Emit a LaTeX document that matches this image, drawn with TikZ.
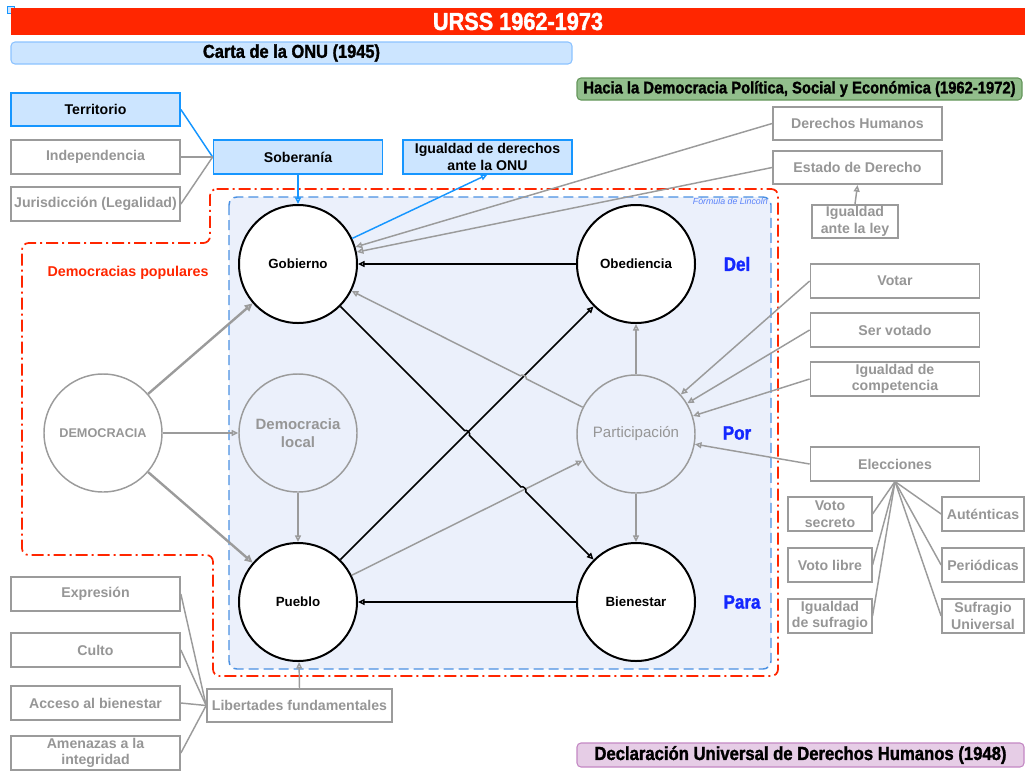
\documentclass[tikz,border=0pt]{standalone}
\usepackage{fontspec}
\setmainfont{Liberation Sans}
\newfontfamily\condfont{Liberation Sans}[FakeStretch=0.88,BoldFeatures={FakeBold=1.5}]
\usetikzlibrary{arrows.meta,calc}

\definecolor{redc}{RGB}{255,38,0}
\definecolor{brightblue}{RGB}{22,150,255}
\definecolor{lightblue}{RGB}{204,229,255}
\definecolor{cartaline}{RGB}{140,195,255}
\definecolor{grayline}{RGB}{155,155,155}
\definecolor{graytext}{RGB}{150,150,150}
\definecolor{dashblue}{RGB}{74,144,226}
\definecolor{lavender}{RGB}{235,240,251}
\definecolor{dpblue}{RGB}{20,40,255}
\definecolor{greenbar}{RGB}{146,190,140}
\definecolor{greenline}{RGB}{100,150,90}
\definecolor{purplebar}{RGB}{230,205,230}
\definecolor{purpleline}{RGB}{195,135,195}
\definecolor{lincolnblue}{RGB}{90,130,250}

\begin{document}
\begin{tikzpicture}[x=0.75pt,y=-0.75pt,
  box/.style={draw=grayline, line width=1.3pt, fill=white, text=graytext,
    font=\bfseries\fontsize{10.6}{12.5}\selectfont, align=center,
    inner sep=0pt, minimum width=126.75pt, minimum height=25pt},
  bluebox/.style={box, draw=brightblue, fill=lightblue, text=black},
  smallbox/.style={box, minimum width=62.5pt},
  circ/.style={circle, draw=black, line width=1.5pt, fill=white,
    minimum size=88.5pt, inner sep=0pt, font=\bfseries\fontsize{10}{12}\selectfont},
  gcirc/.style={circle, draw=grayline, line width=1.1pt, text=graytext,
    minimum size=88.5pt, inner sep=0pt, align=center},
  bar/.style={rounded corners=3pt, line width=0.8pt, inner sep=0pt,
    font=\condfont\bfseries\fontsize{13.3}{15}\selectfont},
  dpl/.style={text=dpblue, font=\condfont\bfseries\fontsize{14.5}{16}\selectfont},
  tip/.style={-{Triangle[open,length=5pt,width=4.5pt]}},
  blk/.style={draw=black, line width=1.1pt, tip},
  gar/.style={draw=grayline, line width=1.1pt, tip},
  gthick/.style={draw=grayline, line width=1.8pt, -{Triangle[open,length=6pt,width=5.5pt]}},
  gline/.style={draw=grayline, line width=1.1pt},
  bline/.style={draw=brightblue, line width=1.1pt},
  barr/.style={draw=brightblue, line width=1.1pt, tip}
]
\useasboundingbox (0,0) rectangle (1025,772);

% corner marker
\node[draw=brightblue, fill=lightblue, line width=0.6pt, minimum size=5pt, inner sep=0pt] (mark) at (11,10) {};

% headline bars
\node[fill=redc, text=white, minimum width=760.5pt, minimum height=20.25pt, inner sep=0pt,
  font=\condfont\bfseries\fontsize{18.5}{20}\selectfont] (title) at (518,21.5) {URSS 1962-1973};
\node[bar, draw=cartaline, fill=lightblue, minimum width=420.75pt, minimum height=16.5pt,
  font=\condfont\bfseries\fontsize{14}{16}\selectfont] (carta) at (291.5,53) {Carta de la ONU (1945)};
\node[bar, draw=greenline, fill=greenbar, minimum width=333.75pt, minimum height=16.5pt,
  font=\condfont\bfseries\fontsize{12.6}{14}\selectfont] (hacia) at (799.5,89) {Hacia la Democracia Política, Social y Económica (1962-1972)};
\node[bar, draw=purpleline, fill=purplebar, minimum width=335.25pt, minimum height=18pt,
  font=\condfont\bfseries\fontsize{14.2}{16}\selectfont] (decl) at (800.5,755) {Declaración Universal de Derechos Humanos (1948)};

% Lincoln frame and people's democracies region
\draw[dashblue, line width=1.1pt, dash pattern=on 7.5pt off 3.75pt, fill=lavender, rounded corners=6pt]
  (229,197) rectangle (771,669);
\draw[redc, line width=1.3pt, dash pattern=on 9pt off 3pt on 1.5pt off 3pt, rounded corners=5pt]
  (210,189) -- (778,189) -- (778,676) -- (213,676) -- (213,555) -- (22,555) -- (22,243) -- (210,243) -- cycle;
\node[anchor=north east, inner sep=0pt, text=lincolnblue, font=\itshape\fontsize{6.6}{8}\selectfont] (lincoln) at (768,198) {Fórmula de Lincoln};
\node[text=redc, font=\bfseries\fontsize{10.7}{12}\selectfont] (dpop) at (128,273) {Democracias populares};

% state attributes
\node[bluebox] (terr) at (95.5,109.5) {Territorio};
\node[box] (indep) at (95.5,157) {Independencia};
\node[box] (juris) at (95.5,204) {Jurisdicción (Legalidad)};
\node[bluebox] (sober) at (298,157) {Soberanía};
\node[bluebox] (igual) at (487.5,157) {Igualdad de derechos\\ante la ONU};

% rights
\node[box] (dh) at (857.5,123.5) {Derechos Humanos};
\node[box] (ed) at (857.5,167.5) {Estado de Derecho};
\node[box, minimum width=64.5pt] (ial) at (855,221.5) {Igualdad\\ante la ley};

% participation
\node[box] (votar) at (895,281) {Votar};
\node[box] (servot) at (895,330) {Ser votado};
\node[box] (icomp) at (895,379) {Igualdad de\\competencia};
\node[box] (elec) at (895,464) {Elecciones};
\node[smallbox] (vsec) at (830,514) {Voto\\secreto};
\node[smallbox] (vlib) at (830,565) {Voto libre};
\node[smallbox] (isuf) at (830,616) {Igualdad\\de sufragio};
\node[smallbox, minimum width=61.5pt] (aut) at (983,514) {Auténticas};
\node[smallbox, minimum width=61.5pt] (per) at (983,565) {Periódicas};
\node[smallbox, minimum width=61.5pt] (suf) at (983,616) {Sufragio\\Universal};

% freedoms
\node[box] (expr) at (95.5,594) {Expresión};
\node[box] (culto) at (95.5,650) {Culto};
\node[box] (acceso) at (95.5,703) {Acceso al bienestar};
\node[box] (amen) at (95.5,753) {Amenazas a la\\integridad};
\node[box, minimum width=138.75pt] (lib) at (299.5,705.5) {Libertades fundamentales};

% circles
\node[gcirc, font=\bfseries\fontsize{9.5}{11}\selectfont] (dem) at (103,433) {DEMOCRACIA};
\node[gcirc, font=\bfseries\fontsize{11.2}{13.5}\selectfont] (dloc) at (298,433) {Democracia\\local};
\node[gcirc, font=\fontsize{11.3}{13}\selectfont] (part) at (636,434) {Participación};
\node[circ] (gob) at (298,264) {Gobierno};
\node[circ] (obed) at (636,264) {Obediencia};
\node[circ] (pueblo) at (298,602) {Pueblo};
\node[circ] (bien) at (636,602) {Bienestar};

\node[dpl] (del) at (737,264) {Del};
\node[dpl] (por) at (737,433) {Por};
\node[dpl] (para) at (742,602) {Para};

% crossing points that get a small jump
\coordinate (xa) at ($(gob)!0.5!(bien)$);
\coordinate (xb) at ($(gob)!0.6667!(bien)$);
\coordinate (xc) at ($(part)!0.3333!(gob)$);

% sovereignty links
\draw[bline] (terr.east) -- (sober.west);
\draw[gline] (indep.east) -- (sober.west);
\draw[gline] (juris.east) -- (sober.west);
\draw[barr] (sober.south) -- (gob);
\draw[barr] (gob) -- (igual.south);

% rights links
\draw[gar] (dh.west) -- (gob);
\draw[gar] (ed.west) -- (gob);
\draw[gar] (ial.north) -- (ed.south);

% Lincoln formula
\draw[blk] (obed) -- (gob);
\draw[blk] (bien) -- (pueblo);
\draw[blk] (pueblo) -- (obed);
\draw[gar] (part) -- (obed);
\draw[gar] (part) -- (bien);
\draw[gar] (dloc) -- (pueblo);
\draw[gar] (pueblo) -- (part);
\draw[gar] (part) -- ($(xc)!2.5pt!(part)$) to[bend right=90] ($(xc)!2.5pt!(gob)$) -- (gob);
\draw[blk] (gob) -- ($(xa)!2.5pt!(gob)$) to[bend left=90] ($(xa)!2.5pt!(bien)$)
  -- ($(xb)!2.5pt!(gob)$) to[bend left=90] ($(xb)!2.5pt!(bien)$) -- (bien);

% democracy
\draw[gthick] (dem) -- (gob);
\draw[gar] (dem) -- (dloc);
\draw[gthick] (dem) -- (pueblo);

% participation inputs
\draw[gar] (votar.west) -- (part);
\draw[gar] (servot.west) -- (part);
\draw[gar] (icomp.west) -- (part);
\draw[gar] (elec.west) -- (part);
\draw[gline] (elec.south) -- (vsec.east);
\draw[gline] (elec.south) -- (vlib.east);
\draw[gline] (elec.south) -- (isuf.east);
\draw[gline] (elec.south) -- (aut.west);
\draw[gline] (elec.south) -- (per.west);
\draw[gline] (elec.south) -- (suf.west);

% freedoms
\draw[gline] (expr.east) -- (lib.west);
\draw[gline] (culto.east) -- (lib.west);
\draw[gline] (acceso.east) -- (lib.west);
\draw[gline] (amen.east) -- (lib.west);
\draw[gar] (lib.north) -- (pueblo);
\end{tikzpicture}
\end{document}
